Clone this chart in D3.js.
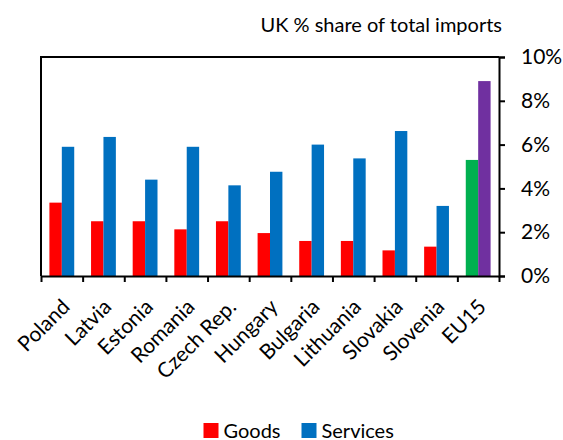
<!DOCTYPE html>
<html><head><meta charset="utf-8">
<script src="https://cdn.jsdelivr.net/npm/d3@7"></script>
<style>
body{margin:0;background:#fff;}
svg{display:block;font-family:Lato, "Open Sans", sans-serif;}
</style></head>
<body><svg id="c" width="563" height="440"></svg>
<script>
const categories = ["Poland","Latvia","Estonia","Romania","Czech Rep.","Hungary","Bulgaria","Lithuania","Slovakia","Slovenia","EU15"];
const goods = [3.35, 2.5, 2.5, 2.13, 2.5, 1.96, 1.6, 1.6, 1.17, 1.34, 5.3];
const services = [5.9, 6.35, 4.4, 5.9, 4.14, 4.76, 6.0, 5.37, 6.62, 3.2, 8.9];
const yTicks = [0, 2, 4, 6, 8, 10];
const yTickLabels = ["0%","2%","4%","6%","8%","10%"];
const seriesNames = ["Goods","Services"];
const title = "UK % share of total imports";

const colGoods = "#FF0000", colServ = "#0070C0", colEUg = "#00B050", colEUs = "#7030A0";

const svg = d3.select("#c");
const L = 41, R = 499, T = 57, B = 276;
const x = d3.scaleBand().domain(categories).range([L, R]).padding(0);
const xb = d3.scaleLinear().domain([0, categories.length]).range([L, R]);
const y = d3.scaleLinear().domain([0, 10]).range([B, T]);
const bw = x.bandwidth() * 0.298;

const rows = categories.map((c, i) => ({c, g: goods[i], s: services[i], eu: c === "EU15"}));
const g = svg.append("g");
g.selectAll("rect.g").data(rows).enter().append("rect")
  .attr("x", d => x(d.c) + x.bandwidth()/2 - bw)
  .attr("width", bw)
  .attr("y", d => y(d.g)).attr("height", d => y(0) - y(d.g))
  .attr("fill", d => d.eu ? colEUg : colGoods);
g.selectAll("rect.s").data(rows).enter().append("rect")
  .attr("x", d => x(d.c) + x.bandwidth()/2)
  .attr("width", bw)
  .attr("y", d => y(d.s)).attr("height", d => y(0) - y(d.s))
  .attr("fill", d => d.eu ? colEUs : colServ);

// plot border (left + top)
svg.append("path").attr("d", `M${L},${B}V${T}H${R}`).attr("fill","none").attr("stroke","#000").attr("stroke-width",2);

// right axis
const ya = svg.append("g").attr("transform", `translate(${R},0)`)
  .call(d3.axisRight(y).tickValues(yTicks).tickFormat((d,i)=>yTickLabels[i]).tickSize(6).tickPadding(16));
ya.select(".domain").attr("stroke","#000").attr("stroke-width",2);
ya.selectAll(".tick line").attr("stroke","#000").attr("stroke-width",2);
ya.selectAll("text").attr("font-size", 21).attr("fill","#000").attr("font-family","Lato");

// bottom axis
const xa = svg.append("g").attr("transform", `translate(0,${B})`)
  .call(d3.axisBottom(xb).tickValues(d3.range(categories.length+1)).tickFormat("").tickSize(6).tickSizeOuter(0));
xa.select(".domain").attr("stroke","#000").attr("stroke-width",2);
xa.selectAll(".tick line").attr("stroke","#000").attr("stroke-width",2);

// x labels
svg.append("g").selectAll("text").data(categories).enter().append("text")
  .attr("transform", d => `translate(${x(d) + x.bandwidth()/2 + 4},303) rotate(-45)`)
  .attr("text-anchor","end").attr("dy","0.35em")
  .attr("font-size", 21).attr("fill","#000")
  .text(d => d);

// title
svg.append("text").attr("x", 502).attr("y", 32).attr("text-anchor","end")
  .attr("font-size", 20).attr("fill","#000").text(title);

// legend
const leg = svg.append("g");
const legItems = [{n: seriesNames[0], c: colGoods, x: 203.5}, {n: seriesNames[1], c: colServ, x: 301.5}];
leg.selectAll("rect").data(legItems).enter().append("rect")
  .attr("x", d => d.x).attr("y", 423).attr("width", 15).attr("height", 15).attr("fill", d => d.c);
leg.selectAll("text").data(legItems).enter().append("text")
  .attr("x", d => d.x + 20).attr("y", 437.5).attr("font-size", 20).attr("fill","#000").text(d => d.n);
</script></body></html>
